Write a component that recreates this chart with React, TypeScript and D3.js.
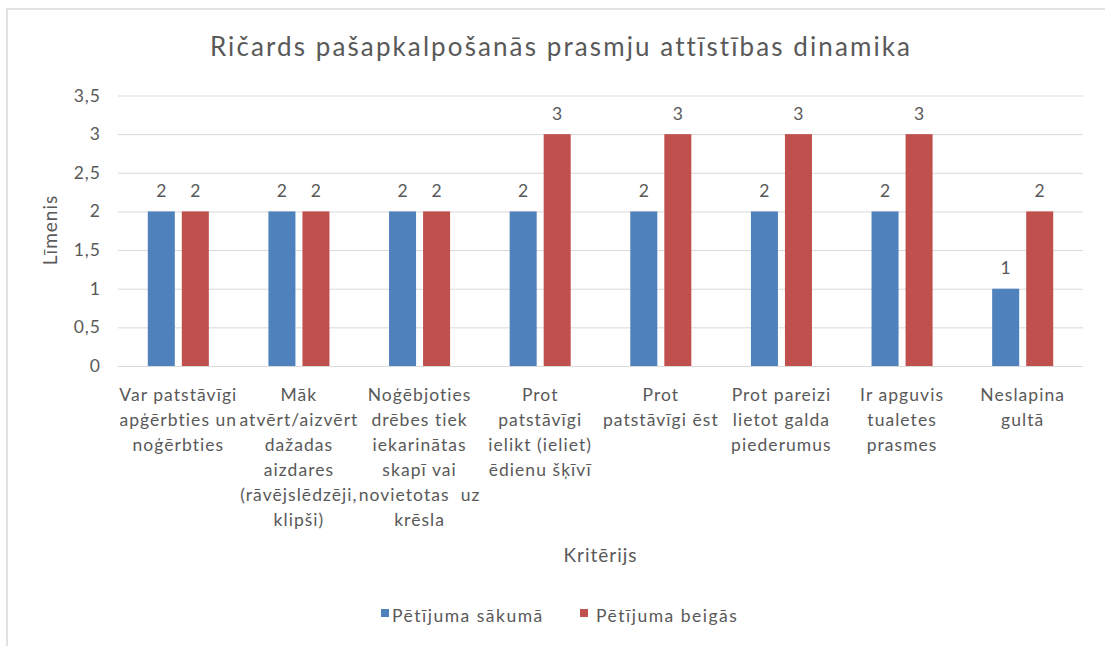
import React from "react";
import * as d3 from "d3";

const title = "Ričards pašapkalpošanās prasmju attīstības dinamika";
const categories: string[][] = [
  ["Var patstāvīgi", "apģērbties un", "noģērbties"],
  ["Māk", "atvērt/aizvērt", "dažadas", "aizdares", "(rāvējslēdzēji,", "klipši)"],
  ["Noģēbjoties", "drēbes tiek", "iekarinātas", "skapī vai", "novietotas  uz", "krēsla"],
  ["Prot", "patstāvīgi", "ielikt (ieliet)", "ēdienu šķīvī"],
  ["Prot", "patstāvīgi ēst"],
  ["Prot pareizi", "lietot galda", "piederumus"],
  ["Ir apguvis", "tualetes", "prasmes"],
  ["Neslapina", "gultā"],
];
const seriesNames = ["Pētījuma sākumā", "Pētījuma beigās"];
const seriesColors = ["#4F81BD", "#C0504D"];
const startValues = [2, 2, 2, 2, 2, 2, 2, 1];
const endValues = [2, 2, 2, 3, 3, 3, 3, 2];
const yTicks = [0, 0.5, 1, 1.5, 2, 2.5, 3, 3.5];
const yAxisTitle = "Līmenis";
const xAxisTitle = "Kritērijs";

const W = 1105;
const H = 646;
const FONT = "Lato, 'Noto Sans', sans-serif";
const TXT = "#595959";

export default function App() {
  const left = 118;
  const right = 1083;
  const top = 95.5;
  const bottom = 366;

  const x0 = d3
    .scaleBand<number>()
    .domain(d3.range(categories.length))
    .range([left, right])
    .paddingInner(0)
    .paddingOuter(0);
  const groupW = x0.bandwidth() * 0.506;
  const x1 = d3
    .scaleBand<number>()
    .domain([0, 1])
    .range([(x0.bandwidth() - groupW) / 2, (x0.bandwidth() + groupW) / 2])
    .paddingInner(0.206)
    .paddingOuter(0);
  const y = d3.scaleLinear().domain([0, 3.5]).range([bottom, top]);
  const fmt = (v: number) => String(v).replace(".", ",");
  const series = [startValues, endValues];

  return (
    <svg
      width={W}
      height={H}
      style={{ position: "absolute", left: 0, top: 0, background: "#fff" }}
      fontFamily={FONT}
    >
      <rect x={7} y={9} width={1110} height={660} fill="#fff" stroke="#D9D9D9" strokeWidth={1.5} />
      <text x={561} y={56} textAnchor="middle" fontSize={26} letterSpacing={2.1} fill={TXT}>
        {title}
      </text>
      {yTicks.map((t) => (
        <g key={t}>
          <line x1={left} x2={right} y1={y(t) + 0.5} y2={y(t) + 0.5} stroke="#D9D9D9" strokeWidth={1} />
          <text x={101} y={y(t) + 6} textAnchor="end" fontSize={17.5} letterSpacing={1} fill={TXT}>
            {fmt(t)}
          </text>
        </g>
      ))}
      {series.map((vals, si) =>
        vals.map((v, ci) => {
          const bx = (x0(ci) as number) + (x1(si) as number);
          return (
            <g key={`${si}-${ci}`}>
              <rect x={bx} y={y(v)} width={x1.bandwidth()} height={y(0) - y(v)} fill={seriesColors[si]} />
              <text
                x={bx + x1.bandwidth() / 2}
                y={y(v) - 14.5}
                textAnchor="middle"
                fontSize={17.5}
                fill={TXT}
              >
                {fmt(v)}
              </text>
            </g>
          );
        })
      )}
      {categories.map((lines, ci) => (
        <text
          key={ci}
          x={(x0(ci) as number) + x0.bandwidth() / 2}
          y={401}
          textAnchor="middle"
          fontSize={17.5}
          letterSpacing={1.05}
          fill={TXT}
          style={{ whiteSpace: "pre" }}
        >
          {lines.map((ln, li) => (
            <tspan key={li} x={(x0(ci) as number) + x0.bandwidth() / 2} y={401 + li * 25}>
              {ln}
            </tspan>
          ))}
        </text>
      ))}
      <text
        transform={`translate(57,${230}) rotate(-90)`}
        textAnchor="middle"
        fontSize={19}
        letterSpacing={1}
        fill={TXT}
      >
        {yAxisTitle}
      </text>
      <text x={(left + right) / 2} y={562} textAnchor="middle" fontSize={19} letterSpacing={1} fill={TXT}>
        {xAxisTitle}
      </text>
      {seriesNames.map((s, i) => {
        const lx = i === 0 ? 381 : 580;
        return (
          <g key={s}>
            <rect x={lx} y={609} width={8} height={8} fill={seriesColors[i]} />
            <text x={lx + (i === 0 ? 11 : 16)} y={622} fontSize={17.5} letterSpacing={1.5} fill={TXT}>
              {s}
            </text>
          </g>
        );
      })}
    </svg>
  );
}
